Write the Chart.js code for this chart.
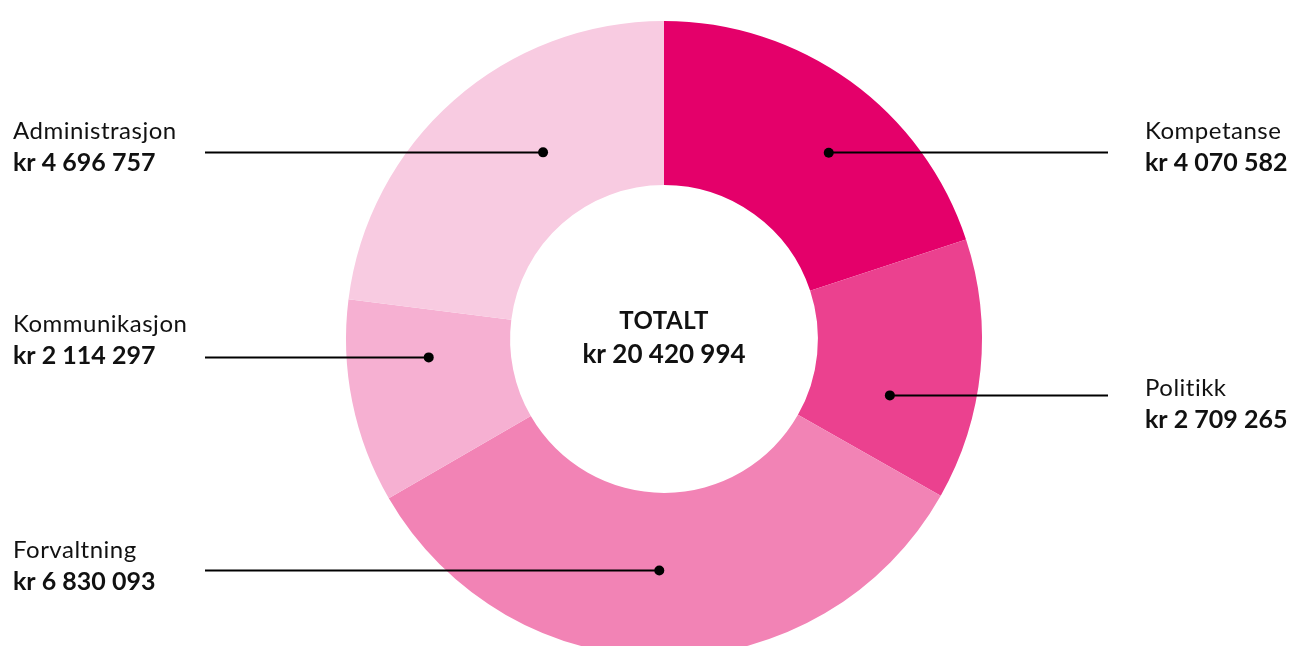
<!DOCTYPE html>
<html>
<head>
<meta charset="utf-8">
<script src="https://cdn.jsdelivr.net/npm/chart.js@4"></script>
<style>
  html, body { margin: 0; padding: 0; background: #fff; overflow: hidden; }
  #wrap { width: 1293px; height: 680px; }
</style>
</head>
<body>
<div id="wrap"><canvas id="budget" width="1293" height="680"></canvas></div>
<script>
const categories = ["Kompetanse", "Politikk", "Forvaltning", "Kommunikasjon", "Administrasjon"];
const amounts = [4070582, 2709265, 6830093, 2114297, 4696757];
const colors = ["#e4006a", "#eb418f", "#f283b5", "#f6b0d2", "#f8cbe1"];
const totalLabel = "TOTALT";

// where each callout sits: side, text baseline, and the dot's spot inside its slice
const callouts = [
  { side: "right", textY: 139, t: 0.577, f: 0.58 },
  { side: "right", textY: 396, t: 0.673, f: 0.48 },
  { side: "left", textY: 558, t: 0.512, f: 0.47 },
  { side: "left", textY: 332, t: 0.69, f: 0.50 },
  { side: "left", textY: 139, t: 0.603, f: 0.42 },
];

const fmt = (n) => "kr " + n.toLocaleString("en-US").replace(/,/g, " ");
const total = amounts.reduce((a, b) => a + b, 0);

const calloutPlugin = {
  id: "callouts",
  afterDraw(chart) {
    const ctx = chart.ctx;
    const arcs = chart.getDatasetMeta(0).data;
    ctx.save();
    arcs.forEach((arc, i) => {
      const c = callouts[i];
      const a = arc.startAngle + (arc.endAngle - arc.startAngle) * c.t;
      const r = arc.innerRadius + (arc.outerRadius - arc.innerRadius) * c.f;
      const dx = arc.x + Math.cos(a) * r;
      const dy = arc.y + Math.sin(a) * r;
      const lineEnd = c.side === "left" ? 205 : 1108;
      ctx.strokeStyle = "#000";
      ctx.lineWidth = 2;
      ctx.beginPath();
      ctx.moveTo(lineEnd, Math.round(dy) + 0.5);
      ctx.lineTo(dx, Math.round(dy) + 0.5);
      ctx.stroke();
      ctx.fillStyle = "#000";
      ctx.beginPath();
      ctx.arc(dx, dy + 0.5, 5, 0, Math.PI * 2);
      ctx.fill();

      const tx = c.side === "left" ? 13 : 1145;
      ctx.textAlign = "left";
      ctx.textBaseline = "alphabetic";
      ctx.fillStyle = "#111";
      ctx.letterSpacing = "0.5px";
      ctx.font = "400 24px Lato";
      ctx.fillText(categories[i], tx, c.textY);
      ctx.letterSpacing = "0px";
      ctx.font = "700 25px Lato";
      ctx.fillText(fmt(amounts[i]), tx, c.textY + 32);
    });

    const cx = arcs[0].x;
    ctx.textAlign = "center";
    ctx.fillStyle = "#111";
    ctx.letterSpacing = "0.5px";
    ctx.font = "700 24px Lato";
    ctx.fillText(totalLabel, cx, 329);
    ctx.font = "700 26px Lato";
    ctx.letterSpacing = "0px";
    ctx.fillText(fmt(total), cx, 363);
    ctx.restore();
  },
};

new Chart(document.getElementById("budget"), {
  type: "doughnut",
  data: {
    labels: categories,
    datasets: [{
      data: amounts,
      backgroundColor: colors,
      borderWidth: 0,
    }],
  },
  options: {
    responsive: false,
    animation: false,
    cutout: "48.4%",
    layout: { padding: { top: 21, bottom: 23, left: 35, right: 0 } },
    plugins: { legend: { display: false }, tooltip: { enabled: false } },
  },
  plugins: [calloutPlugin],
});
</script>
</body>
</html>
